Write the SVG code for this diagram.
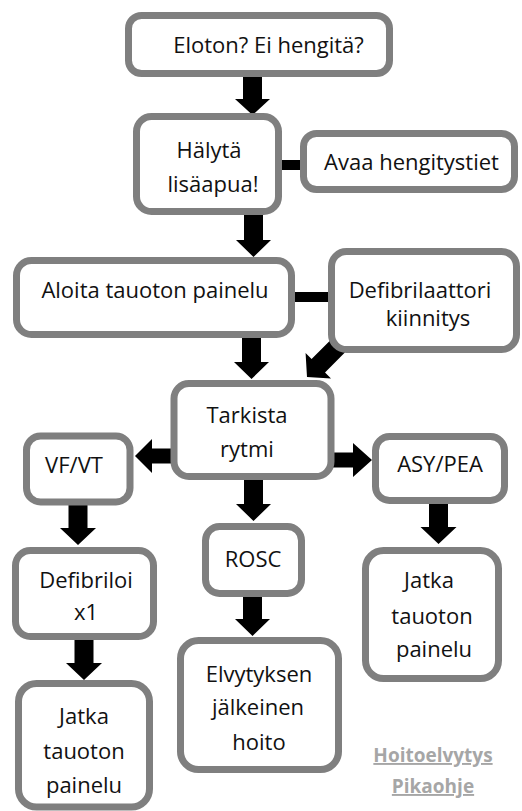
<svg xmlns="http://www.w3.org/2000/svg" width="522" height="811" viewBox="0 0 522 811">
  <style>
    .box { fill: #ffffff; stroke: #7f7f7f; stroke-width: 7; }
    .arrow { fill: #000000; }
    .bar { fill: #000000; }
    .label { font-family: "Open Sans", "Noto Sans", sans-serif; font-size: 22px; fill: #111111; text-anchor: middle; }
    .note { font-family: "Open Sans", "Noto Sans", sans-serif; font-size: 19px; font-weight: bold; fill: #a6a6a6; text-anchor: middle; text-decoration: underline; }
  </style>
  <rect width="522" height="811" fill="#ffffff"/>

  <!-- connectors: block arrows and plain links -->
  <g id="connectors">
    <!-- Eloton -> Hälytä -->
    <polygon class="arrow" points="243,74 262,74 262,99 270,99 252.5,115 235,99 243,99"/>
    <!-- Hälytä -> Aloita -->
    <polygon class="arrow" points="244,212 263,212 263,240 271,240 253.5,257 236,240 244,240"/>
    <!-- Aloita -> Tarkista -->
    <polygon class="arrow" points="242,334 261,334 261,362 269,362 251.5,379 234,362 242,362"/>
    <!-- Defibrilaattori -> Tarkista (diagonal) -->
    <polygon class="arrow" transform="translate(307,377) rotate(135)" points="-56,-9.5 -16,-9.5 -16,-18 0,0 -16,18 -16,9.5 -56,9.5"/>
    <!-- Tarkista -> VF/VT -->
    <polygon class="arrow" points="176,448.5 152,448.5 152,439 135,456 152,473 152,463.5 176,463.5"/>
    <!-- Tarkista -> ASY/PEA -->
    <polygon class="arrow" points="330,452.5 353,452.5 353,443 372,460 353,477 353,467.5 330,467.5"/>
    <!-- Tarkista -> ROSC -->
    <polygon class="arrow" points="244,477 263,477 263,504 271,504 253.5,521 236,504 244,504"/>
    <!-- ROSC -> Elvytyksen -->
    <polygon class="arrow" points="243,594 262,594 262,619 270,619 252.5,636 235,619 243,619"/>
    <!-- VF/VT -> Defibriloi -->
    <polygon class="arrow" points="68.5,502 87.5,502 87.5,528 96,528 78,545 60,528 68.5,528"/>
    <!-- Defibriloi -> Jatka (left) -->
    <polygon class="arrow" points="74.5,637 93.5,637 93.5,663 102,663 84,680 66,663 74.5,663"/>
    <!-- ASY/PEA -> Jatka (right) -->
    <polygon class="arrow" points="429,500 448,500 448,527 456.5,527 438.5,544 420.5,527 429,527"/>
    <!-- Hälytä — Avaa hengitystiet -->
    <rect class="bar" x="278" y="160" width="27" height="10"/>
    <!-- Aloita — Defibrilaattori -->
    <rect class="bar" x="291" y="292" width="42" height="10"/>
  </g>

  <g id="node-eloton">
    <rect class="box" x="128.5" y="15.5" width="261" height="58" rx="13"/>
    <text class="label" x="268.5" y="53">Eloton? Ei hengitä?</text>
  </g>

  <g id="node-halyta">
    <rect class="box" x="136.5" y="116.5" width="142" height="95" rx="15"/>
    <text class="label" x="209" y="158">Hälytä</text>
    <text class="label" x="213" y="192">lisäapua!</text>
  </g>

  <g id="node-avaa">
    <rect class="box" x="303.5" y="133.5" width="211" height="56" rx="13"/>
    <text class="label" x="411.5" y="170">Avaa hengitystiet</text>
  </g>

  <g id="node-aloita">
    <rect class="box" x="16.5" y="260.5" width="275" height="74" rx="15"/>
    <text class="label" x="155" y="298">Aloita tauoton painelu</text>
  </g>

  <g id="node-defib">
    <rect class="box" x="331.5" y="251.5" width="185" height="98" rx="15"/>
    <text class="label" x="420" y="298">Defibrilaattori</text>
    <text class="label" x="428" y="326">kiinnitys</text>
  </g>

  <g id="node-tarkista">
    <rect class="box" x="174" y="383.5" width="157" height="93" rx="15"/>
    <text class="label" x="247" y="423">Tarkista</text>
    <text class="label" x="247" y="457">rytmi</text>
  </g>

  <g id="node-vfvt">
    <rect class="box" x="26.5" y="436" width="103.5" height="66" rx="14"/>
    <text class="label" x="74" y="473">VF/VT</text>
  </g>

  <g id="node-asypea">
    <rect class="box" x="375.5" y="436.5" width="129" height="64" rx="14"/>
    <text class="label" x="440" y="472">ASY/PEA</text>
  </g>

  <g id="node-rosc">
    <rect class="box" x="205.5" y="526.5" width="96" height="67" rx="14"/>
    <text class="label" x="253" y="567">ROSC</text>
  </g>

  <g id="node-defibriloi">
    <rect class="box" x="15.5" y="550.5" width="138" height="86" rx="15"/>
    <text class="label" x="86" y="588">Defibriloi</text>
    <text class="label" x="86" y="620">x1</text>
  </g>

  <g id="node-elvytyksen">
    <rect class="box" x="180.5" y="640.5" width="158" height="129" rx="18"/>
    <text class="label" x="259" y="682">Elvytyksen</text>
    <text class="label" x="258" y="715">jälkeinen</text>
    <text class="label" x="259" y="750">hoito</text>
  </g>

  <g id="node-jatka-right">
    <rect class="box" x="365.5" y="550.5" width="133" height="128" rx="18"/>
    <text class="label" x="429" y="588">Jatka</text>
    <text class="label" x="432" y="624">tauoton</text>
    <text class="label" x="434" y="657">painelu</text>
  </g>

  <g id="node-jatka-left">
    <rect class="box" x="18.5" y="683.5" width="131" height="123.5" rx="18"/>
    <text class="label" x="84" y="724">Jatka</text>
    <text class="label" x="84" y="759">tauoton</text>
    <text class="label" x="84" y="793">painelu</text>
  </g>

  <g id="caption">
    <text class="note" x="433" y="762">Hoitoelvytys</text>
    <text class="note" x="433" y="793">Pikaohje</text>
  </g>
</svg>
